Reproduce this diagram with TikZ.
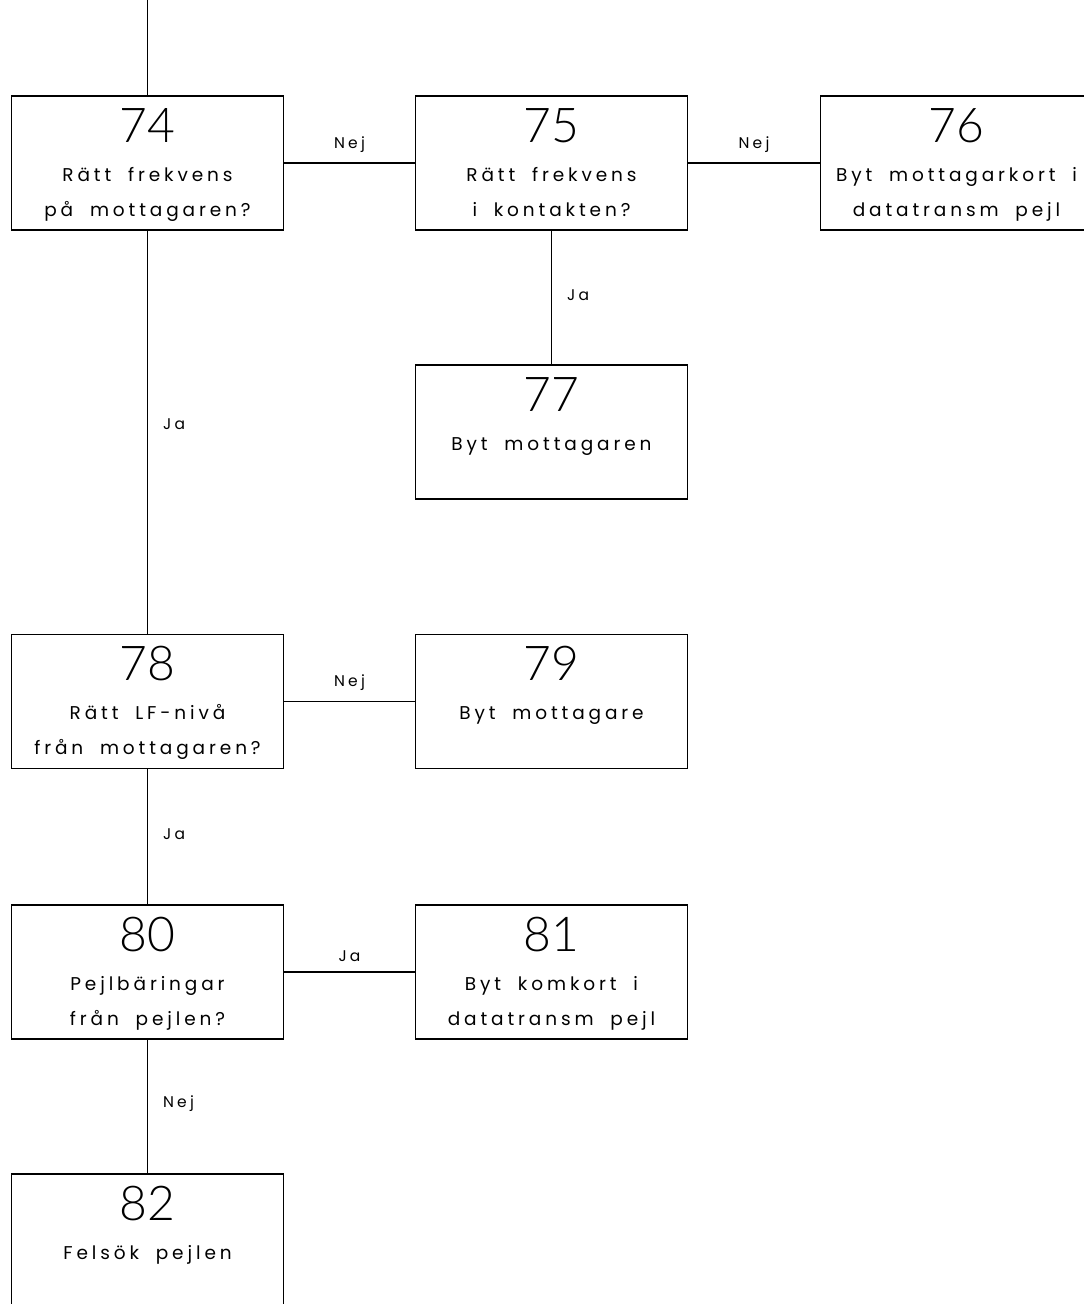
\documentclass[tikz,border=0pt]{standalone}
\usepackage{fontspec}
\setmainfont{Lato}
\newfontfamily\numfont{Lato Light}
\newfontfamily\bodyfont[LetterSpace=21,WordSpace=1.9,Ligatures=NoCommon]{Poppins}

% one numbered step box: name, x, y, number, first line, second line
\newcommand\fcbox[6]{%
  \node[box] (b#1) at (#2,#3) {};
  \node[num, yshift=-47pt] (n#1) at (b#1.north) {#4};
  \node[txt, yshift=-86pt] (p#1) at (b#1.north) {#5};
  \if\relax\detokenize{#6}\relax\else
    \node[txt, yshift=-121pt] (q#1) at (b#1.north) {#6};
  \fi
}

\begin{document}
\begin{tikzpicture}[x=1pt,y=-1pt,
  box/.style={draw, line width=1.3pt, rectangle, minimum width=272pt, minimum height=134pt, inner sep=0pt},
  num/.style={anchor=base, inner sep=0pt, font=\numfont\fontsize{48}{48}\selectfont},
  txt/.style={anchor=base, inner sep=0pt, font=\bodyfont\fontsize{18.5}{18.5}\selectfont},
  lbl/.style={inner sep=0pt, font=\bodyfont\fontsize{15.5}{15.5}\selectfont},
  wire/.style={line width=1.2pt}]
\useasboundingbox (0,0) rectangle (1084,1304);
\clip (0,0) rectangle (1084,1304);

\fcbox{74}{147.5}{163}{74}{Rätt frekvens}{på mottagaren?}
\fcbox{75}{551.5}{163}{75}{Rätt frekvens}{i kontakten?}
\fcbox{76}{956.5}{163}{76}{Byt mottagarkort i}{datatransm pejl}
\fcbox{77}{551.5}{432}{77}{Byt mottagaren}{}
\fcbox{78}{147.5}{701.5}{78}{Rätt LF-nivå}{från mottagaren?}
\fcbox{79}{551.5}{701.5}{79}{Byt mottagare}{}
\fcbox{80}{147.5}{972}{80}{Pejlbäringar}{från pejlen?}
\fcbox{81}{551.5}{972}{81}{Byt komkort i}{datatransm pejl}
\fcbox{82}{147.5}{1241}{82}{Felsök pejlen}{}

\coordinate (entry) at (147.5,0);
\draw[wire] (entry) -- (b74.north);

\draw[wire] (b74.east) -- node[lbl, above=10pt] (l1) {Nej} (b75.west);
\draw[wire] (b75.east) -- node[lbl, above=10pt] (l2) {Nej} (b76.west);
\draw[wire] (b75.south) -- node[lbl, pos=0.48, anchor=west, xshift=15pt] (l3) {Ja} (b77.north);
\draw[wire] (b74.south) -- node[lbl, pos=0.48, anchor=west, xshift=15pt] (l4) {Ja} (b78.north);
\draw[wire] (b78.east) -- node[lbl, above=10pt] (l5) {Nej} (b79.west);
\draw[wire] (b78.south) -- node[lbl, pos=0.48, anchor=west, xshift=15pt] (l6) {Ja} (b80.north);
\draw[wire] (b80.east) -- node[lbl, above=10pt] (l7) {Ja} (b81.west);
\draw[wire] (b80.south) -- node[lbl, pos=0.48, anchor=west, xshift=15pt] (l8) {Nej} (b82.north);
\end{tikzpicture}
\end{document}
